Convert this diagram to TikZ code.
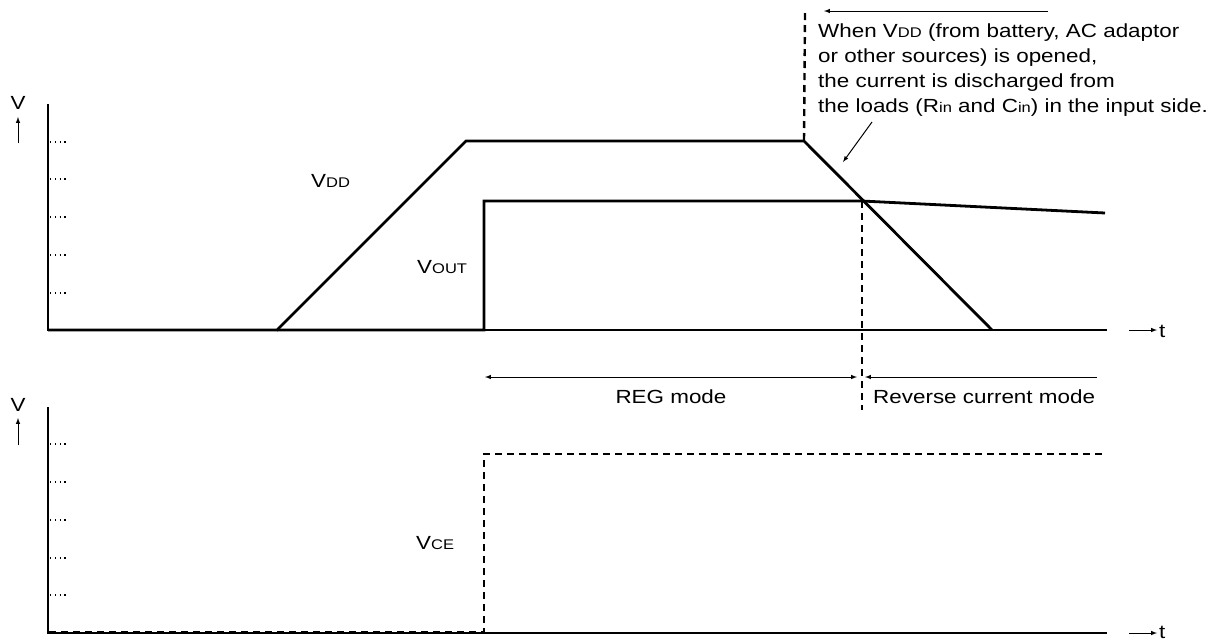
\documentclass[tikz,border=0pt]{standalone}
\usepackage{fontspec}
\setmainfont{Liberation Sans}[FakeStretch=1.18]
\usepackage{tikz}
\usetikzlibrary{shapes,arrows}
\usetikzlibrary{positioning}
\tikzstyle{trace} = [draw, line width=2.8pt, line join=miter]
\tikzstyle{dtrace} = [draw, line width=2.8pt, dash pattern=on 7pt off 5pt]
\tikzstyle{axisline} = [draw, line width=1.4pt]
\tikzstyle{tickdots} = [draw, line width=1.2pt, dash pattern=on 1.2pt off 3.6pt]
\tikzstyle{thinarrow} = [draw, line width=1pt, -latex]
\tikzstyle{lbl} = [inner sep=0pt, font=\fontsize{19}{25}\selectfont]
\newcommand{\sml}[1]{{\fontsize{14}{14}\selectfont #1}}

\begin{document}
\begin{tikzpicture}[x=1pt, y=-1pt]
\useasboundingbox (0,0) rectangle (1217,641);

%% upper graph
\coordinate (o1) at (48,330);
\coordinate (top1) at (48,104);
\coordinate (end1) at (1107,330);
\coordinate (ta1) at (1129,330);
\coordinate (tb1) at (1157,330);
\node [lbl, anchor=west] at (1159,331) (t1) {t};
\node [lbl] at (18,103) (v1) {V};
\coordinate (va1) at (18,143);
\coordinate (vb1) at (18,117);
\path [axisline] (top1) to (o1) to (end1);
\path [thinarrow] (ta1) to (tb1);
\path [thinarrow] (va1) to (vb1);
\foreach \y in {142,179,217,255,293} {
  \path [tickdots] (50,\y) to (69,\y);
}

\coordinate (d0) at (48,330);
\coordinate (d1) at (277,330);
\coordinate (d2) at (466,141);
\coordinate (d3) at (804,141);
\coordinate (d4) at (992,330);
\path [trace] (d0) -- (d1) -- (d2) -- (d3) -- (d4);

\coordinate (u1) at (484,330);
\coordinate (u2) at (484,201);
\coordinate (u3) at (862,201);
\coordinate (u4) at (1105,213);
\path [trace] (d1) -- (u1) -- (u2) -- (u3) -- (u4);

\node [lbl, anchor=west] at (311,181) (vdd) {V\sml{DD}};
\node [lbl, anchor=west] at (417,267) (vout) {V\sml{OUT}};

%% lower graph
\coordinate (o2) at (48,633);
\coordinate (top2) at (48,407);
\coordinate (end2) at (1107,633);
\coordinate (ta2) at (1129,633);
\coordinate (tb2) at (1157,633);
\node [lbl, anchor=west] at (1159,632) (t2) {t};
\node [lbl] at (18,405) (v2) {V};
\coordinate (va2) at (18,445);
\coordinate (vb2) at (18,418);
\path [axisline] (top2) to (o2) to (end2);
\path [thinarrow] (ta2) to (tb2);
\path [thinarrow] (va2) to (vb2);
\foreach \y in {444,482,520,558,595} {
  \path [tickdots] (50,\y) to (69,\y);
}

\coordinate (c0) at (49,632);
\coordinate (c1) at (484,632);
\coordinate (c2) at (484,454);
\coordinate (c3) at (1105,454);
\path [dtrace] (c0) -- (c1) -- (c2) -- (c3);
\node [lbl, anchor=west] at (416,543) (vce) {V\sml{CE}};

%% annotations

\coordinate (s1) at (805,13);
\path [dtrace, line width=2.4pt] (s1) to (d3);
\coordinate (s2) at (862,410);
\path [dtrace, line width=2.4pt] (u3) to (s2);

\coordinate (n1) at (1048,11);
\coordinate (n2) at (824,11);
\path [thinarrow] (n1) to (n2);

\node [lbl, anchor=base west, align=left] at (818,112) (note)
  {When V\sml{DD} (from battery, AC adaptor\\
   or other sources) is opened,\\
   the current is discharged from\\
   the loads (R\sml{in} and C\sml{in}) in the input side.};
\coordinate (p1) at (872,122);
\coordinate (p2) at (843,162);
\path [thinarrow] (p1) to (p2);

\coordinate (r1) at (485,377);
\coordinate (r2) at (857,377);
\path [draw, line width=1pt, latex-latex] (r1) to (r2);
\node [lbl] at (671,397) (reg) {REG mode};
\coordinate (q1) at (865,377);
\coordinate (q2) at (1097,377);
\path [draw, line width=1pt, latex-] (q1) to (q2);
\node [lbl, anchor=west] at (873,397) (rev) {Reverse current mode};

\end{tikzpicture}
\end{document}
